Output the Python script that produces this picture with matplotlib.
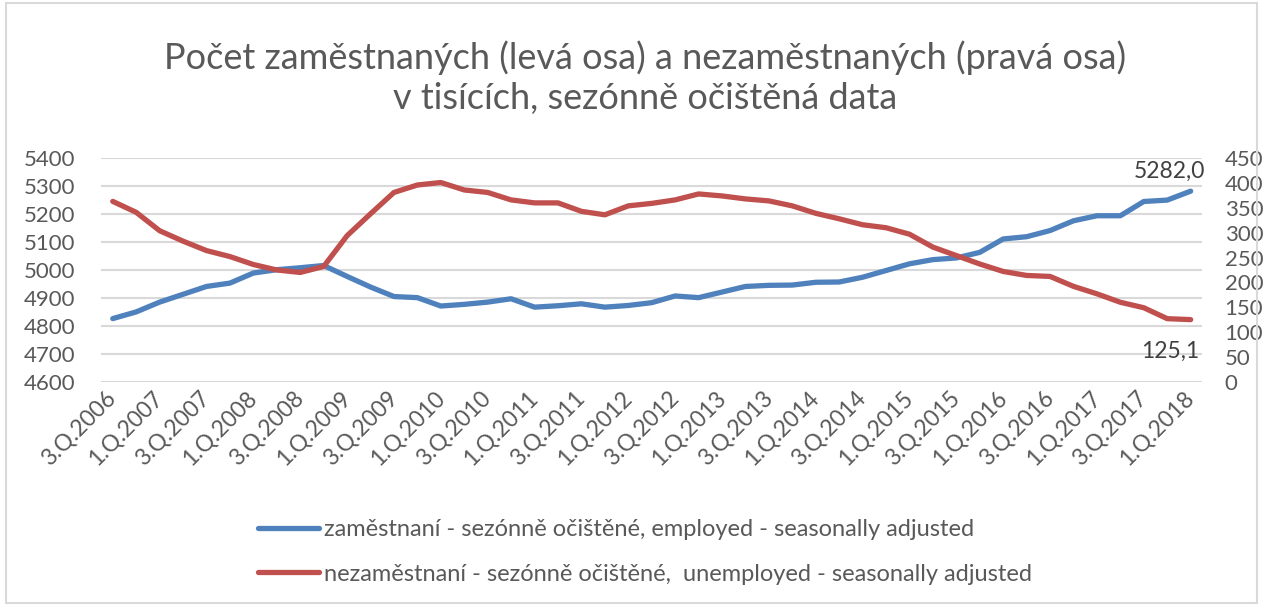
import matplotlib
matplotlib.use("Agg")
import matplotlib.pyplot as plt
from matplotlib.patches import Rectangle
import numpy as np

# Data (thousands, seasonally adjusted), 3.Q.2006 .. 1.Q.2018
quarters = []
for year in range(2006, 2019):
    for q in range(1, 5):
        if (year == 2006 and q < 3) or (year == 2018 and q > 1):
            continue
        quarters.append(f"{q}.Q.{year}")

employed = [4826, 4850, 4885, 4913, 4941, 4953, 4989, 5001, 5008, 5016,
            4977, 4939, 4905, 4901, 4871, 4877, 4885, 4897, 4867, 4872,
            4879, 4867, 4873, 4883, 4907, 4901, 4921, 4941, 4945, 4946,
            4956, 4957, 4974, 4998, 5022, 5037, 5043, 5063, 5111, 5119,
            5141, 5176, 5194, 5194, 5245, 5250, 5282.0]
unemployed = [363, 341, 304, 283, 264, 252, 236, 225, 220, 232,
              294, 338, 381, 396, 401, 386, 381, 366, 360, 360,
              343, 336, 354, 359, 366, 378, 374, 368, 364, 354,
              339, 328, 316, 310, 297, 271, 254, 237, 222, 214,
              212, 192, 177, 160, 149, 127, 125.1]

title = "Počet zaměstnaných (levá osa) a nezaměstnaných (pravá osa)\nv tisících, sezónně očištěná data"
label_emp = "zaměstnaní - sezónně očištěné, employed - seasonally adjusted"
label_unemp = "nezaměstnaní - sezónně očištěné,  unemployed - seasonally adjusted"

blue = "#4F81BD"
red = "#C0504D"
grey = "#595959"

plt.rcParams['font.family'] = ['Lato', 'DejaVu Sans']

fig = plt.figure(figsize=(12.63, 6.06), dpi=100)
ax = fig.add_axes([0.080, 0.370, 0.872, 0.369])
ax2 = ax.twinx()

x = np.arange(len(quarters))
l1, = ax.plot(x, employed, color=blue, lw=3.8, solid_capstyle='round', zorder=3)
l2, = ax2.plot(x, unemployed, color=red, lw=3.8, solid_capstyle='round', zorder=3)

ax.set_xlim(-0.5, len(quarters) - 0.5)
ax.set_ylim(4600, 5400)
ax.set_yticks(np.arange(4600, 5401, 100))
ax2.set_ylim(0, 450)
ax2.set_yticks(np.arange(0, 451, 50))

ax.grid(axis='y', color='#d9d9d9', lw=1.5)
ax.set_axisbelow(True)
for a in (ax, ax2):
    for s in a.spines.values():
        s.set_visible(False)
    a.tick_params(length=0, colors=grey, labelsize=16)
ax.tick_params(axis='y', pad=18.5)
ax2.tick_params(axis='y', pad=16)

ax.set_xticks(x[::2])
ax.set_xticklabels(quarters[::2], rotation=45, ha='right', va='center',
                   rotation_mode='anchor', fontsize=16.5, color=grey)
ax.tick_params(axis='x', pad=9)

# data labels for last points
ax.annotate(f"{employed[-1]:.1f}".replace('.', ','), (x[-1], employed[-1]),
            xytext=(-15, 14.5), textcoords='offset points', ha='center', va='center',
            fontsize=16.5, color='#404040')
ax2.annotate(f"{unemployed[-1]:.1f}".replace('.', ','), (x[-1], unemployed[-1]),
             xytext=(-14.5, -22.5), textcoords='offset points', ha='center', va='center',
             fontsize=16.5, color='#404040')

fig.text(0.511, 0.872, title, ha='center', va='center', fontsize=26,
         color=grey, linespacing=1.25)

fig.legend([l1, l2], [label_emp, label_unemp], loc='center', ncol=1,
           bbox_to_anchor=(0.511, 0.089), frameon=False, fontsize=17,
           labelcolor=grey, handlelength=2.55, handletextpad=0.25, labelspacing=0.98)

fig.patches.append(Rectangle((0.005, 0.005), 0.99, 0.99, transform=fig.transFigure,
                             fill=False, edgecolor='#d9d9d9', lw=1.5))

fig.savefig("out.png", dpi=100)
